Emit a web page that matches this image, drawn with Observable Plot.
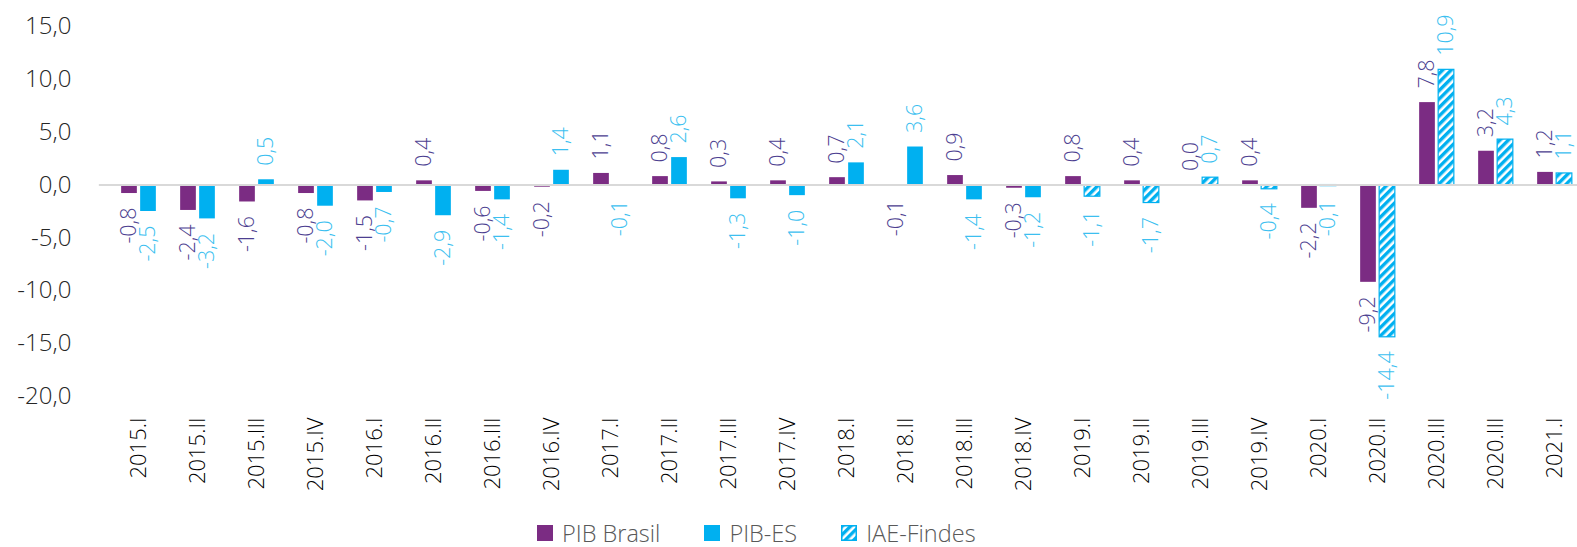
<!DOCTYPE html>
<html>
<head>
<meta charset="utf-8">
<script src="https://cdn.jsdelivr.net/npm/d3@7"></script>
<script src="https://cdn.jsdelivr.net/npm/@observablehq/plot@0.6"></script>
<style>
  html, body { margin: 0; padding: 0; background: #fff; overflow: hidden; width: 1577px; height: 547px; }
  #chart { position: absolute; left: 0; top: 0; width: 1577px; overflow: hidden; }
  #legend { position: absolute; left: 537px; top: 517px; display: flex; align-items: center;
    font-family: "Open Sans", sans-serif; font-weight: 300; font-size: 23.5px; color: #595959; }
  #legend .item { display: flex; align-items: center; margin-right: 44px; }
  #legend svg { margin-right: 9px; }
</style>
</head>
<body>
<div id="chart"></div>
<div id="legend"></div>
<script>
const quarterKeys = ["2015.I","2015.II","2015.III","2015.IV","2016.I","2016.II","2016.III","2016.IV",
  "2017.I","2017.II","2017.III","2017.IV","2018.I","2018.II","2018.III","2018.IV",
  "2019.I","2019.II","2019.III","2019.IV","2020.I","2020.II","2020.III","2020.IV","2021.I"];
const quarterLabels = ["2015.I","2015.II","2015.III","2015.IV","2016.I","2016.II","2016.III","2016.IV",
  "2017.I","2017.II","2017.III","2017.IV","2018.I","2018.II","2018.III","2018.IV",
  "2019.I","2019.II","2019.III","2019.IV","2020.I","2020.II","2020.III","2020.III","2021.I"];
const pibBrasil = [-0.8,-2.4,-1.6,-0.8,-1.5,0.4,-0.6,-0.2,1.1,0.8,0.3,0.4,0.7,-0.1,0.9,-0.3,
  0.8,0.4,0.0,0.4,-2.2,-9.2,7.8,3.2,1.2];
const pibES = [-2.5,-3.2,0.5,-2.0,-0.7,-2.9,-1.4,1.4,-0.1,2.6,-1.3,-1.0,2.1,3.6,-1.4,-1.2,
  null,null,null,null,null,null,null,null,null];
const iaeFindes = [null,null,null,null,null,null,null,null,null,null,null,null,null,null,null,null,
  -1.1,-1.7,0.7,-0.4,-0.1,-14.4,10.9,4.3,1.1];
const seriesNames = ["PIB Brasil","PIB-ES","IAE-Findes"];
const yTicks = [15,10,5,0,-5,-10,-15,-20];

const rows = [];
quarterKeys.forEach((q, i) => {
  rows.push({q, series: "PIB Brasil", left: true, v: pibBrasil[i]});
  if (pibES[i] != null) rows.push({q, series: "PIB-ES", left: false, v: pibES[i]});
  if (iaeFindes[i] != null) rows.push({q, series: "IAE-Findes", left: false, v: iaeFindes[i]});
});

// band geometry (pixels): band step 59.8, outer gap 12.15, bar 16.5, gap 2.5
const X0 = 98.85, STEP = 59.8;
const OUT = 12.15, BW = 16.5, GAP = 2.5;
const OFF = (BW + GAP) / 2;

const fillOf = s => s === "PIB Brasil" ? "#7B2C83" : s === "PIB-ES" ? "#00B0F0" : "url(#hatchIAE)";
const strokeOf = s => s === "IAE-Findes" ? "#00B0F0" : "none";
const labelColor = s => s === "PIB Brasil" ? "#4d3f91" : "#3cbff0";
const fmt = v => v.toFixed(1).replace(".", ",");
const labelMap = new Map(quarterKeys.map((k, i) => [k, quarterLabels[i]]));

const leftRows = rows.filter(d => d.left), rightRows = rows.filter(d => !d.left);
const textOpts = (data, dx, pos) => Plot.text(data.filter(d => pos ? d.v >= 0 : d.v < 0), {
  x: "q", y: "v", text: d => fmt(d.v), rotate: -90,
  textAnchor: pos ? "start" : "end", lineAnchor: "middle",
  dx, dy: pos ? -14 : 14, fill: d => labelColor(d.series), fontSize: 21.5, fontWeight: 300
});

const chart = Plot.plot({
  width: 1577,
  height: 500,
  marginLeft: X0,
  marginRight: 0,
  marginTop: 26,
  marginBottom: 104,
  style: {fontFamily: "'Open Sans', sans-serif", background: "white", overflow: "hidden"},
  x: {domain: quarterKeys, padding: 0, range: [X0, X0 + STEP * quarterKeys.length], label: null},
  y: {domain: [-20, 15], label: null},
  marks: [
    Plot.ruleY(yTicks.filter(d => d !== 0), {x1: X0, x2: 1577, stroke: "#e6e6e6", strokeWidth: 1.5, strokeDasharray: "8,5"}),
    Plot.barY(leftRows, {x: "q", y: "v", fill: d => fillOf(d.series), insetLeft: OUT, insetRight: STEP - OUT - BW}),
    Plot.barY(rightRows, {x: "q", y: "v", fill: d => fillOf(d.series), stroke: d => strokeOf(d.series), strokeWidth: 1.2, insetLeft: OUT + BW + GAP, insetRight: OUT}),
    Plot.ruleY([0], {stroke: "#d9d9d9", strokeWidth: 2}),
    textOpts(leftRows, -OFF, true),
    textOpts(leftRows, -OFF, false),
    textOpts(rightRows, OFF, true),
    textOpts(rightRows, OFF, false),
    Plot.axisY({ticks: yTicks, tickSize: 0, tickPadding: 28, tickFormat: d => d.toFixed(1).replace(".", ","), fontSize: 24, fontWeight: 300, fill: "#262626", label: null}),
    Plot.axisX({anchor: "bottom", tickSize: 0, tickPadding: 21, tickRotate: -90, tickFormat: d => labelMap.get(d), fontSize: 22, fontWeight: 300, fill: "#000", label: null})
  ]
});

// hatch pattern definition
const svgNS = "http://www.w3.org/2000/svg";
function addPattern(svg) {
  const defs = document.createElementNS(svgNS, "defs");
  defs.innerHTML = `<pattern id="hatchIAE" patternUnits="userSpaceOnUse" width="6" height="6" patternTransform="rotate(45)">
      <rect x="0" y="0" width="6" height="6" fill="#ffffff"/>
      <rect x="0" y="0" width="3.4" height="6" fill="#00B0F0"/>
    </pattern>`;
  svg.insertBefore(defs, svg.firstChild);
}
addPattern(chart.tagName.toLowerCase() === "svg" ? chart : chart.querySelector("svg"));
document.getElementById("chart").appendChild(chart);

// legend
const legend = document.getElementById("legend");
seriesNames.forEach(s => {
  const item = document.createElement("div");
  item.className = "item";
  const sw = document.createElementNS(svgNS, "svg");
  sw.setAttribute("width", "16"); sw.setAttribute("height", "16");
  const r = document.createElementNS(svgNS, "rect");
  r.setAttribute("x", s === "IAE-Findes" ? "0.75" : "0");
  r.setAttribute("y", s === "IAE-Findes" ? "0.75" : "0");
  r.setAttribute("width", s === "IAE-Findes" ? "14.5" : "16");
  r.setAttribute("height", s === "IAE-Findes" ? "14.5" : "16");
  r.setAttribute("fill", fillOf(s));
  if (s === "IAE-Findes") { r.setAttribute("stroke", "#00B0F0"); r.setAttribute("stroke-width", "1.5"); }
  sw.appendChild(r);
  const t = document.createElement("span");
  t.textContent = s;
  item.appendChild(sw);
  item.appendChild(t);
  legend.appendChild(item);
});
</script>
</body>
</html>
